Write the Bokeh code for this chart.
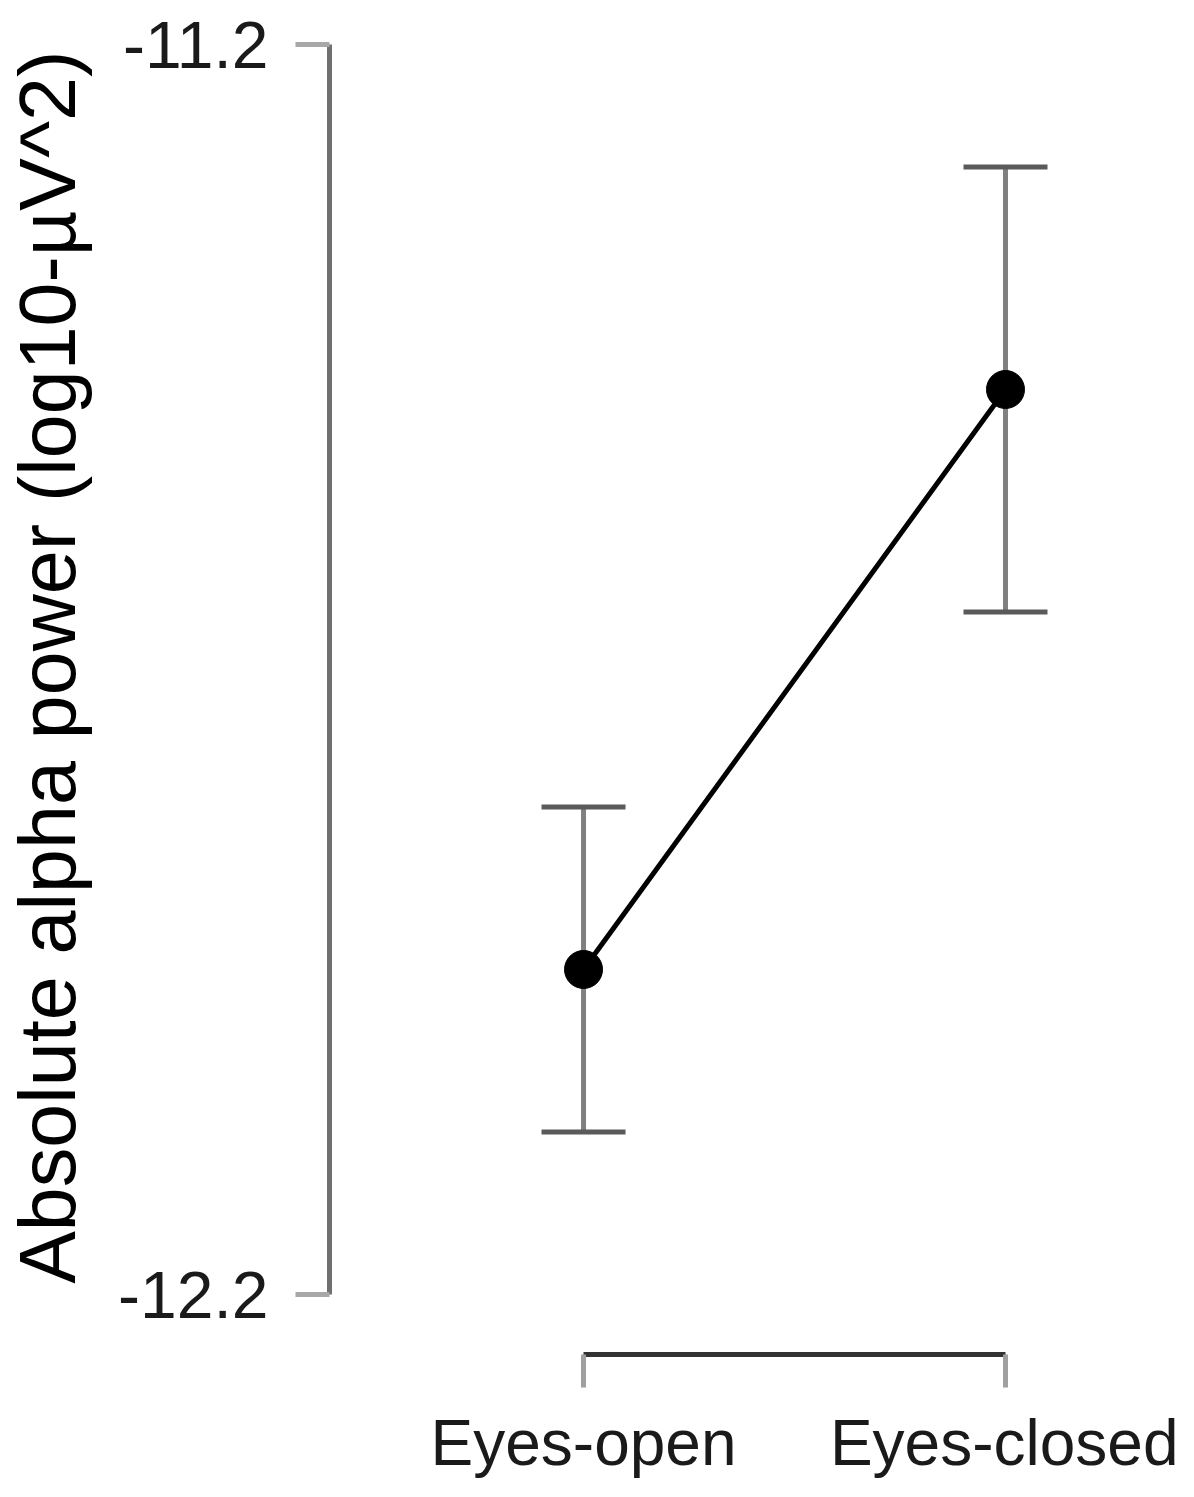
from bokeh.plotting import figure
from bokeh.models import ColumnDataSource, Whisker, TeeHead, FixedTicker, Range1d
from bokeh.embed import file_html
from bokeh.resources import INLINE

# ---- data ----
conditions = ["Eyes-open", "Eyes-closed"]
x_pos = [0, 1]
means = [-11.940, -11.476]
lower = [-12.070, -11.654]
upper = [-11.810, -11.298]
y_ticks = [-12.2, -11.2]
y_tick_labels = ["-12.2", "-11.2"]
y_title = "Absolute alpha power (log10-µV^2)"

src = ColumnDataSource(dict(x=x_pos, mean=means, lower=lower, upper=upper))

FONT = "Liberation Sans"

p = figure(width=1178, height=1481, output_backend="svg", toolbar_location=None,
           x_range=Range1d(-0.602, 1.41), y_range=Range1d(-12.248, -11.18),
           min_border_left=329, min_border_top=19, min_border_right=0, min_border_bottom=0)
p.frame_width = 849
p.frame_height = 1335
p.outline_line_color = None
p.xgrid.visible = False
p.ygrid.visible = False
p.background_fill_color = "white"

# error bars
w = Whisker(source=src, base="x", upper="upper", lower="lower", dimension="height",
            line_color="#808080", line_width=5,
            upper_head=TeeHead(size=84, line_color="#5a5a5a", line_width=5),
            lower_head=TeeHead(size=84, line_color="#5a5a5a", line_width=5))
p.add_layout(w)

p.line("x", "mean", source=src, line_color="black", line_width=5)
p.scatter("x", "mean", source=src, size=38, fill_color="black", line_color="black")

# y axis
ya = p.yaxis[0]
ya.ticker = FixedTicker(ticks=y_ticks)
ya.bounds = (y_ticks[0], y_ticks[-1])
ya.major_label_overrides = {y_ticks[i]: y_tick_labels[i] for i in range(len(y_ticks))}
ya.axis_line_color = "#707070"
ya.axis_line_width = 5
ya.major_tick_line_color = "#a8a8a8"
ya.major_tick_line_width = 5
ya.major_tick_out = 34
ya.major_tick_in = 0
ya.minor_tick_line_color = None
ya.major_label_standoff = 27
ya.major_label_text_font = FONT
ya.major_label_text_font_size = "66px"
ya.major_label_text_color = "#1a1a1a"
# a leading en space nudges the centred title towards the middle of the axis' own extent
ya.axis_label = "\u2002" + y_title
ya.axis_label_text_font = FONT
ya.axis_label_text_font_size = "79px"
ya.axis_label_text_font_style = "normal"
ya.axis_label_text_color = "black"
ya.axis_label_standoff = 23

# x axis
xa = p.xaxis[0]
xa.ticker = FixedTicker(ticks=x_pos)
xa.bounds = (x_pos[0], x_pos[-1])
xa.major_label_overrides = {x_pos[i]: conditions[i] for i in range(len(conditions))}
xa.axis_line_color = "#333333"
xa.axis_line_width = 5
xa.major_tick_line_color = "#a0a0a0"
xa.major_tick_line_width = 5
xa.major_tick_out = 33
xa.major_tick_in = 0
xa.minor_tick_line_color = None
xa.major_label_standoff = 19
xa.major_label_text_font = FONT
xa.major_label_text_font_size = "64px"
xa.major_label_text_color = "#1a1a1a"

open("out.html", "w").write(file_html(p, INLINE))
